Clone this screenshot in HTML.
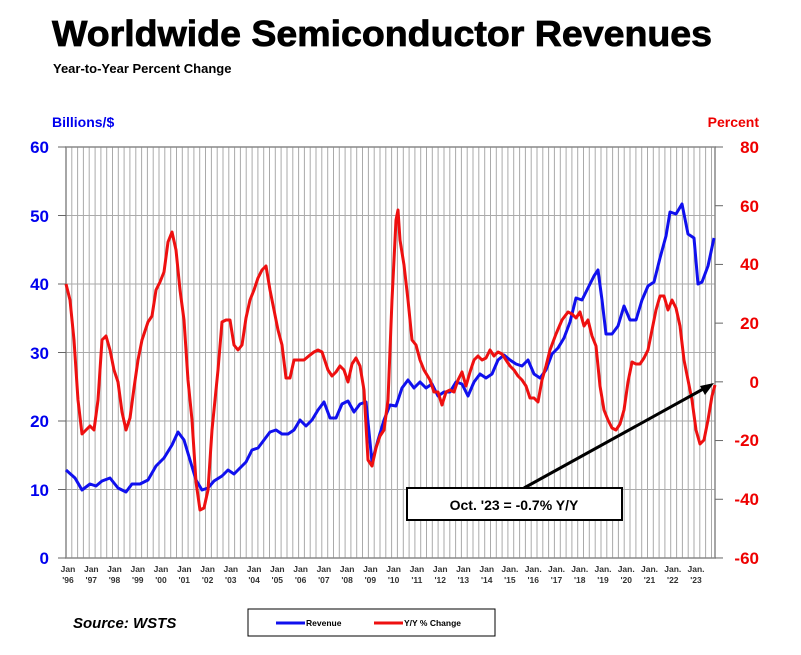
<!DOCTYPE html>
<html><head><style>
body{margin:0;background:#fff;}
svg{display:block;font-family:"Liberation Sans",Arial,sans-serif;}
</style></head><body>
<svg width="801" height="655" viewBox="0 0 801 655" xmlns="http://www.w3.org/2000/svg">
<text x="52" y="46" font-size="36" font-weight="bold" fill="#000" textLength="660" lengthAdjust="spacingAndGlyphs" stroke="#000" stroke-width="0.8">Worldwide Semiconductor Revenues</text>
<text x="53" y="73" font-size="13" font-weight="bold" fill="#000">Year-to-Year Percent Change</text>
<text x="52" y="127" font-size="14" font-weight="bold" fill="#0000ee">Billions/$</text>
<text x="759" y="127" font-size="14" font-weight="bold" fill="#ee0000" text-anchor="end">Percent</text>
<g id="grid" stroke="#aaa" stroke-width="1"></g>
<rect x="66" y="147" width="649" height="411" fill="none" stroke="#888" stroke-width="1.5"/>
<g font-size="17" font-weight="bold" fill="#0000ee" text-anchor="end">
<text x="49" y="153">60</text><text x="49" y="222">50</text><text x="49" y="290">40</text><text x="49" y="359">30</text><text x="49" y="427">20</text><text x="49" y="496">10</text><text x="49" y="564">0</text>
</g>
<g font-size="17" font-weight="bold" fill="#ee0000" text-anchor="end">
<text x="759" y="153">80</text><text x="759" y="212">60</text><text x="759" y="270">40</text><text x="759" y="329">20</text><text x="759" y="388">0</text><text x="759" y="446">-20</text><text x="759" y="505">-40</text><text x="759" y="564">-60</text>
</g>
<g id="rt" stroke="#666" stroke-width="1"></g>
<g id="xl" font-size="8.5" font-weight="bold" fill="#333" text-anchor="middle"></g>
<polyline fill="none" stroke="#1010ee" stroke-width="3" stroke-linejoin="round" points="66,470 75,478 82,490 90,484 96,486 102,481 110,478 118,488 126,492 132,484 140,484 148,480 156,466 164,458 172,445 178,432 184,440 190,460 196,480 202,490 208,488 214,481 222,476 228,470 234,474 240,468 246,462 252,450 258,448 264,440 270,432 276,430 282,434 288,434 294,430 300,420 306,426 312,420 318,410 324,402 330,418 336,418 342,404 348,401 354,412 360,404 366,402 372,462 378,440 384,420 390,405 396,406 402,388 408,380 414,388 420,382 426,388 432,384 438,396 444,392 450,392 456,382 462,384 468,396 474,382 480,374 486,378 492,374 498,360 504,355 510,360 516,364 522,366 528,360 534,374 540,378 546,370 552,354 558,348 564,338 570,322 576,298 582,300 588,288 594,276 598,270 602,300 606,334 612,334 618,326 624,306 630,320 636,320 642,300 648,286 654,282 660,258 666,236 670,212 676,214 682,204 688,234 694,238 698,284 702,282 708,266 714,238"/>
<polyline fill="none" stroke="#ee1010" stroke-width="3" stroke-linejoin="round" points="66,284 70,300 74,340 78,400 82,434 86,430 90,426 94,430 98,400 102,340 106,336 110,350 114,370 118,382 122,412 126,430 130,418 134,388 138,360 142,340 148,322 152,316 156,290 160,282 164,272 168,242 172,232 176,250 180,290 184,320 188,380 192,420 196,482 200,510 204,508 208,490 212,430 218,370 222,322 226,320 230,320 234,345 238,350 242,345 246,318 250,300 254,290 258,278 262,270 266,266 270,290 274,310 278,330 282,345 286,378 290,378 294,360 298,360 304,360 310,355 314,352 318,350 322,352 328,370 332,376 336,372 340,366 344,370 348,382 352,364 356,358 360,366 364,390 368,460 372,466 376,448 380,436 384,430 388,400 392,300 396,220 398,210 400,240 404,265 408,300 412,340 416,345 420,360 424,370 430,380 434,392 438,392 442,405 446,392 450,390 454,392 458,380 462,372 466,386 470,372 474,360 478,356 482,360 486,358 490,350 494,356 498,352 502,354 506,360 510,366 514,370 518,376 522,380 526,386 530,398 534,398 538,402 542,380 546,366 550,350 556,334 562,320 568,312 572,314 576,318 580,312 584,326 588,320 592,336 596,346 600,386 604,410 608,420 612,428 616,430 620,424 624,410 628,382 632,362 636,364 640,364 644,358 648,350 652,330 656,310 660,296 664,296 668,310 672,300 676,308 680,326 684,360 688,380 692,400 696,430 700,444 704,440 708,420 712,396 715,385"/>
<line x1="524" y1="488" x2="705" y2="388" stroke="#000" stroke-width="3"/>
<polygon points="714,383 700,386 705,395" fill="#000"/>
<rect x="407" y="488" width="215" height="32" fill="#fff" stroke="#000" stroke-width="2"/>
<text x="514" y="510" font-size="14" font-weight="bold" text-anchor="middle">Oct. '23 = -0.7% Y/Y</text>
<text x="73" y="628" font-size="15" font-weight="bold" font-style="italic">Source: WSTS</text>
<rect x="248" y="609" width="247" height="27" fill="#fff" stroke="#000" stroke-width="1"/>
<line x1="276" y1="623" x2="305" y2="623" stroke="#1010ee" stroke-width="3"/>
<text x="306" y="626" font-size="8.5" font-weight="bold">Revenue</text>
<line x1="374" y1="623" x2="403" y2="623" stroke="#ee1010" stroke-width="3"/>
<text x="404" y="626" font-size="8.5" font-weight="bold">Y/Y % Change</text>
<script>
var ns="http://www.w3.org/2000/svg",g=document.getElementById("grid"),xl=document.getElementById("xl"),rt=document.getElementById("rt");
function el(p,t,a){var e=document.createElementNS(ns,t);for(var k in a)e.setAttribute(k,a[k]);p.appendChild(e);return e;}
for(var x=66+5.8;x<715;x+=5.815)el(g,"line",{x1:x.toFixed(1),y1:147,x2:x.toFixed(1),y2:558});
for(var i=1;i<6;i++){var y=558-i*68.5;el(g,"line",{x1:66,y1:y,x2:715,y2:y});}
for(var i=0;i<8;i++){var y=147+i*58.71;el(rt,"line",{x1:715,y1:y,x2:723,y2:y});}
for(var i=0;i<7;i++){var y=147+i*68.5;el(rt,"line",{x1:58,y1:y,x2:66,y2:y});}
for(var i=0;i<28;i++){var yr=1996+i,x=68+i*23.26;var a=el(xl,"text",{x:x.toFixed(1),y:572});a.textContent=yr>=2015?"Jan.":"Jan";var b=el(xl,"text",{x:x.toFixed(1),y:583});b.textContent="'"+String(yr).slice(2);}
</script>
</svg>
</body></html>
